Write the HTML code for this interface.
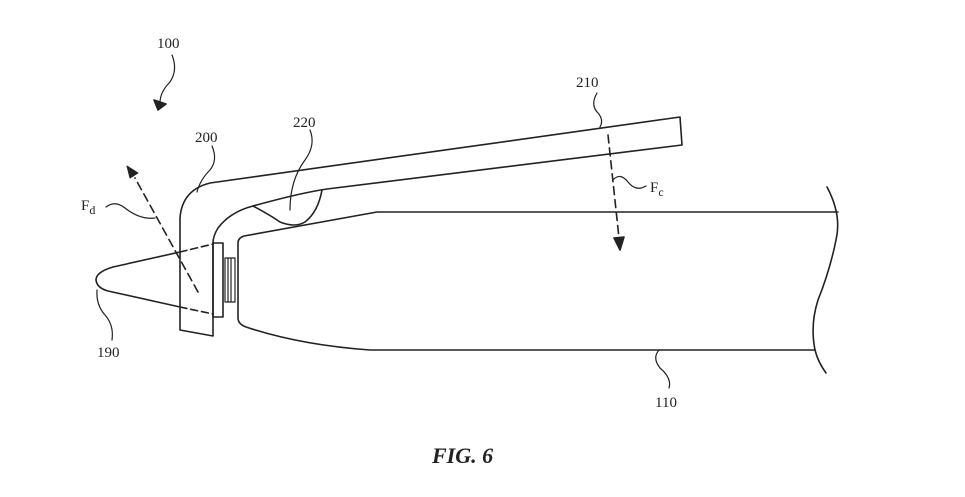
<!DOCTYPE html>
<html><head><style>html,body{margin:0;padding:0;background:#fff}svg{display:block}</style></head><body>
<svg width="965" height="497" viewBox="0 0 965 497" xmlns="http://www.w3.org/2000/svg">
<g fill="none" stroke="#222" stroke-width="1.6" stroke-linecap="round" stroke-linejoin="round">
<!-- tip cone -->
<path d="M180,252 L113,267 Q96,272 96,280 Q97,288 108,291 L180,307"/>
<path d="M180,252 L213,244 M180,307 L213,314" stroke-dasharray="7,4"/>
<!-- clip -->
<path d="M180,330 L180,218 Q182,190 210,183 L680,117 L682,145 L327,189 Q300,193 253,206 Q230,212 218,228 Q213,236 213,243 L213,336 Z"/>
<!-- 220 bump -->
<path d="M253,206 Q270,215 280,222 Q295,228 305,222 Q318,212 322,190"/>
<!-- small box -->
<rect x="213" y="243" width="10" height="74"/>
<!-- connector -->
<path d="M225,258 L235,258 L235,302 L225,302 Z M228,258 V302 M231,258 V302" stroke-width="1.2"/>
<!-- body -->
<path d="M838,212 L377,212 L244,236 Q238,238 238,243 L238,318 Q238,324 246,327 Q300,345 370,350 L815,350"/>
<path d="M827,187 Q842,215 836,240 Q830,270 818,300 Q810,325 815,350 Q818,362 826,373"/>
<!-- Fc arrow -->
<path d="M608,135 L619,238" stroke-dasharray="8,5"/>
<path d="M614,238 L624,237 L620,250 Z" fill="#222"/>
<!-- Fd arrow -->
<path d="M198,292 L135,178" stroke-dasharray="8,5"/>
<path d="M127,166 L138,173 L130,178 Z" fill="#222" stroke-width="1"/>
<!-- leaders -->
<path d="M613,180 Q620,172 628,182 Q636,192 646,186" stroke-width="1.2"/>
<path d="M597,93 Q590,105 598,113 Q604,120 600,127" stroke-width="1.2"/>
<path d="M310,130 Q316,145 305,160 Q290,180 290,210" stroke-width="1.2"/>
<path d="M212,146 Q218,160 210,170 Q200,180 197,192" stroke-width="1.2"/>
<path d="M172,55 Q178,70 170,82 Q160,92 160,103" stroke-width="1.2"/>
<path d="M154,100 L166,104 L158,110 Z" fill="#222"/>
<path d="M106,207 Q115,200 125,208 Q140,220 155,218" stroke-width="1.2"/>
<path d="M97,290 Q96,305 105,315 Q114,325 112,340" stroke-width="1.2"/>
<path d="M659,350 Q652,358 660,368 Q672,378 669,388" stroke-width="1.2"/>
</g>
<g font-family="Liberation Serif, serif" font-size="15" fill="#222">
<text x="157" y="48">100</text>
<text x="576" y="87">210</text>
<text x="293" y="127">220</text>
<text x="195" y="142">200</text>
<text x="81" y="210">F<tspan font-size="12" dy="4">d</tspan></text>
<text x="650" y="192">F<tspan font-size="12" dy="4">c</tspan></text>
<text x="97" y="357">190</text>
<text x="655" y="407">110</text>
<text x="432" y="463" font-size="22" font-weight="bold" font-style="italic">FIG. 6</text>
</g>
</svg>
</body></html>
